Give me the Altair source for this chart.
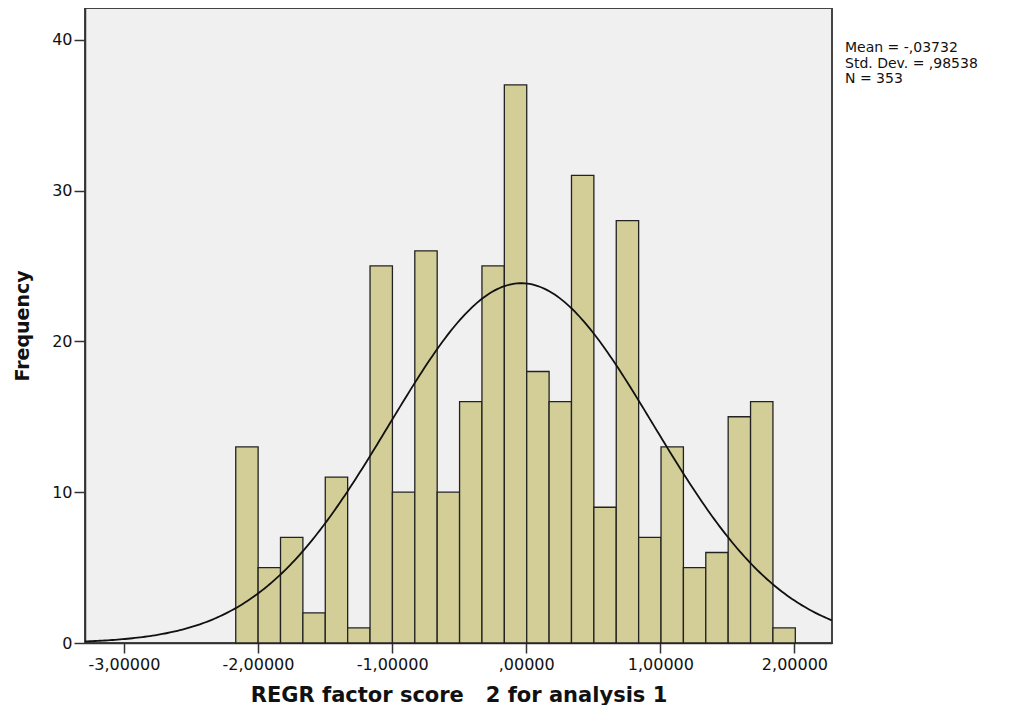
import altair as alt
import pandas as pd
import numpy as np

# Histogram counts (25 bins)
counts = [13, 5, 7, 2, 11, 1, 25, 10, 26, 10, 16, 25, 37, 18, 16, 31, 9, 28, 7, 13, 5, 6, 15, 16, 1]
bin_start = -2.166
bin_width = 0.1669

# Summary statistics shown on the chart
mean = -0.03732
std = 0.98538
n = 353

x_ticks = [-3, -2, -1, 0, 1, 2]
y_ticks = [0, 10, 20, 30, 40]
x_domain = [-3.29, 2.28]
y_domain = [0, 42.1]

bars = pd.DataFrame({
    "x0": [bin_start + i * bin_width for i in range(len(counts))],
    "x1": [bin_start + (i + 1) * bin_width for i in range(len(counts))],
    "count": counts,
})

# fitted normal curve defined by the displayed mean / std / N
xs = np.linspace(x_domain[0], x_domain[1], 300)
ys = n * bin_width * np.exp(-0.5 * ((xs - mean) / std) ** 2) / (std * np.sqrt(2 * np.pi))
curve = pd.DataFrame({"x": xs, "y": ys})

stats_lines = ["Mean = -,03732", "Std. Dev. = ,98538", "N = 353"]

xscale = alt.Scale(domain=x_domain, nice=False, zero=False)
yscale = alt.Scale(domain=y_domain, nice=False)

xaxis = alt.Axis(
    values=x_ticks,
    title="REGR factor score\u00a0\u00a0\u00a02 for analysis 1",
    labelExpr="(datum.value < 0 ? '-' : '') + (datum.value == 0 ? '' : abs(datum.value)) + ',00000'",
    grid=False,
    tickSize=10,
    labelPadding=3,
    labelFontSize=16,
    labelFont="DejaVu Sans",
    titleFont="DejaVu Sans",
    titleFontSize=21,
    titleFontWeight="bold",
    titlePadding=12,
)
yaxis = alt.Axis(
    values=y_ticks,
    title="Frequency",
    grid=False,
    tickSize=11,
    labelPadding=2,
    labelFontSize=16,
    labelFont="DejaVu Sans",
    titleFont="DejaVu Sans",
    titleFontSize=19,
    titleFontWeight="bold",
    titlePadding=19,
)

bar_layer = alt.Chart(bars).mark_rect(
    fill="#d3ce97", stroke="#222222", strokeWidth=1.3
).encode(
    x=alt.X("x0:Q", scale=xscale, axis=xaxis),
    x2="x1:Q",
    y=alt.Y("count:Q", scale=yscale, axis=yaxis),
    y2=alt.datum(0),
)

line_layer = alt.Chart(curve).mark_line(color="#111111", strokeWidth=1.8, clip=True).encode(
    x=alt.X("x:Q", scale=xscale),
    y=alt.Y("y:Q", scale=yscale),
)

text_layers = []
for i, t in enumerate(stats_lines):
    text_layers.append(
        alt.Chart(pd.DataFrame({"t": [t]})).mark_text(
            align="left", baseline="alphabetic", fontSize=14, font="DejaVu Sans", color="#111111"
        ).encode(
            x=alt.value(760),
            y=alt.value(44 + 15.5 * i),
            text="t:N",
        )
    )

chart = alt.layer(bar_layer, line_layer, *text_layers).properties(
    width=747,
    height=635,
    autosize=alt.AutoSizeParams(type="none"),
    padding={"left": 77, "top": 0, "right": 170, "bottom": 62},
).configure_view(
    fill="#f0f0f0", stroke="#444444", strokeWidth=2
).configure_axis(
    labelColor="#111111",
    titleColor="#111111",
    domainColor="#333333",
    tickColor="#333333",
    domainWidth=1.5,
    tickWidth=1.5,
)

chart.save("out.html", embed_options={"renderer": "svg", "actions": False})
